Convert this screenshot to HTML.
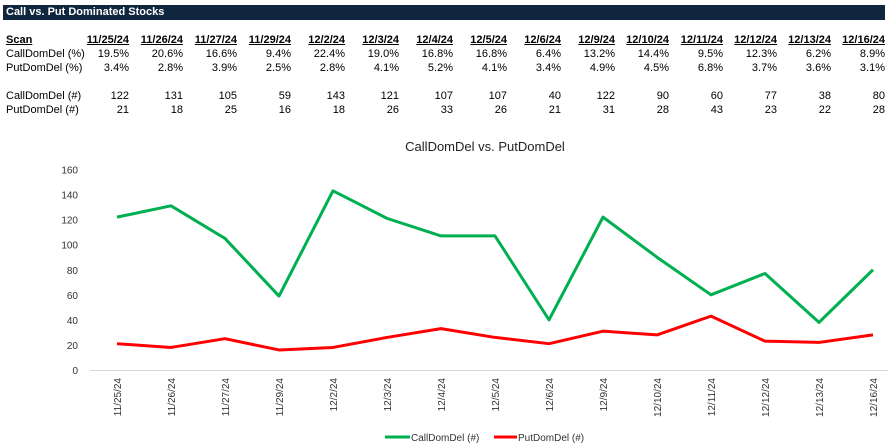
<!DOCTYPE html>
<html><head><style>
body{margin:0;width:888px;height:445px;background:#fff;font-family:"Liberation Sans",sans-serif;position:relative;overflow:hidden}
.bar{position:absolute;left:3px;top:5px;width:882px;height:15px;background:#10263f;color:#fff;font-weight:bold;font-size:11px;line-height:15px;padding-left:3px;box-sizing:border-box}
.t{position:absolute;font-size:11px;color:#000;white-space:nowrap}
.h{font-weight:bold;text-decoration:underline}
</style></head><body>
<div class="bar">Call vs. Put Dominated Stocks</div>
<div id="tbl"></div>
<svg width="888" height="445" style="position:absolute;left:0;top:0" id="ch"></svg>
<script>
var d=["11/25/24","11/26/24","11/27/24","11/29/24","12/2/24","12/3/24","12/4/24","12/5/24","12/6/24","12/9/24","12/10/24","12/11/24","12/12/24","12/13/24","12/16/24"];
var cp=["19.5%","20.6%","16.6%","9.4%","22.4%","19.0%","16.8%","16.8%","6.4%","13.2%","14.4%","9.5%","12.3%","6.2%","8.9%"];
var pp=["3.4%","2.8%","3.9%","2.5%","2.8%","4.1%","5.2%","4.1%","3.4%","4.9%","4.5%","6.8%","3.7%","3.6%","3.1%"];
var c=[122,131,105,59,143,121,107,107,40,122,90,60,77,38,80];
var p=[21,18,25,16,18,26,33,26,21,31,28,43,23,22,28];
var h='';
function cell(x,y,t,cls){return '<div class="t '+(cls||'')+'" style="right:'+(888-x)+'px;top:'+y+'px">'+t+'</div>';}
h+='<div class="t h" style="left:6px;top:34px">Scan</div>';
[['CallDomDel (%)',48],['PutDomDel (%)',62],['CallDomDel (#)',90],['PutDomDel (#)',104]].forEach(function(r){h+='<div class="t" style="left:6px;top:'+r[1]+'px">'+r[0]+'</div>';});
for(var i=0;i<15;i++){var x=129+i*54;h+=cell(x,34,d[i],'h')+cell(x,48,cp[i])+cell(x,62,pp[i])+cell(x,90,c[i])+cell(x,104,p[i]);}
document.getElementById('tbl').innerHTML=h;
var s='';
function Y(v){return 370-v*200.5/160;}
function X(i){return 117+i*54.0;}
s+='<text x="485" y="151" text-anchor="middle" font-size="13" fill="#222">CallDomDel vs. PutDomDel</text>';
for(var v=0;v<=160;v+=20)s+='<text x="78" y="'+(Y(v)+4)+'" text-anchor="end" font-size="10" fill="#333">'+v+'</text>';
s+='<line x1="90" y1="370.5" x2="888" y2="370.5" stroke="#d9d9d9"/>';
for(i=0;i<15;i++)s+='<text transform="translate('+(X(i)+4)+',378) rotate(-90)" text-anchor="end" font-size="10" fill="#333">'+d[i]+'</text>';
function pl(a,col){return '<polyline fill="none" stroke="'+col+'" stroke-width="3" stroke-linejoin="round" points="'+a.map(function(v,i){return X(i)+','+Y(v)}).join(' ')+'"/>';}
s+=pl(c,'#00b050')+pl(p,'#ff0000');
s+='<line x1="385" y1="437" x2="410" y2="437" stroke="#00b050" stroke-width="3"/><text x="411" y="441" font-size="10" fill="#333">CallDomDel (#)</text>';
s+='<line x1="494" y1="437" x2="517" y2="437" stroke="#ff0000" stroke-width="3"/><text x="518" y="441" font-size="10" fill="#333">PutDomDel (#)</text>';
document.getElementById('ch').innerHTML=s;
</script>
</body></html>
